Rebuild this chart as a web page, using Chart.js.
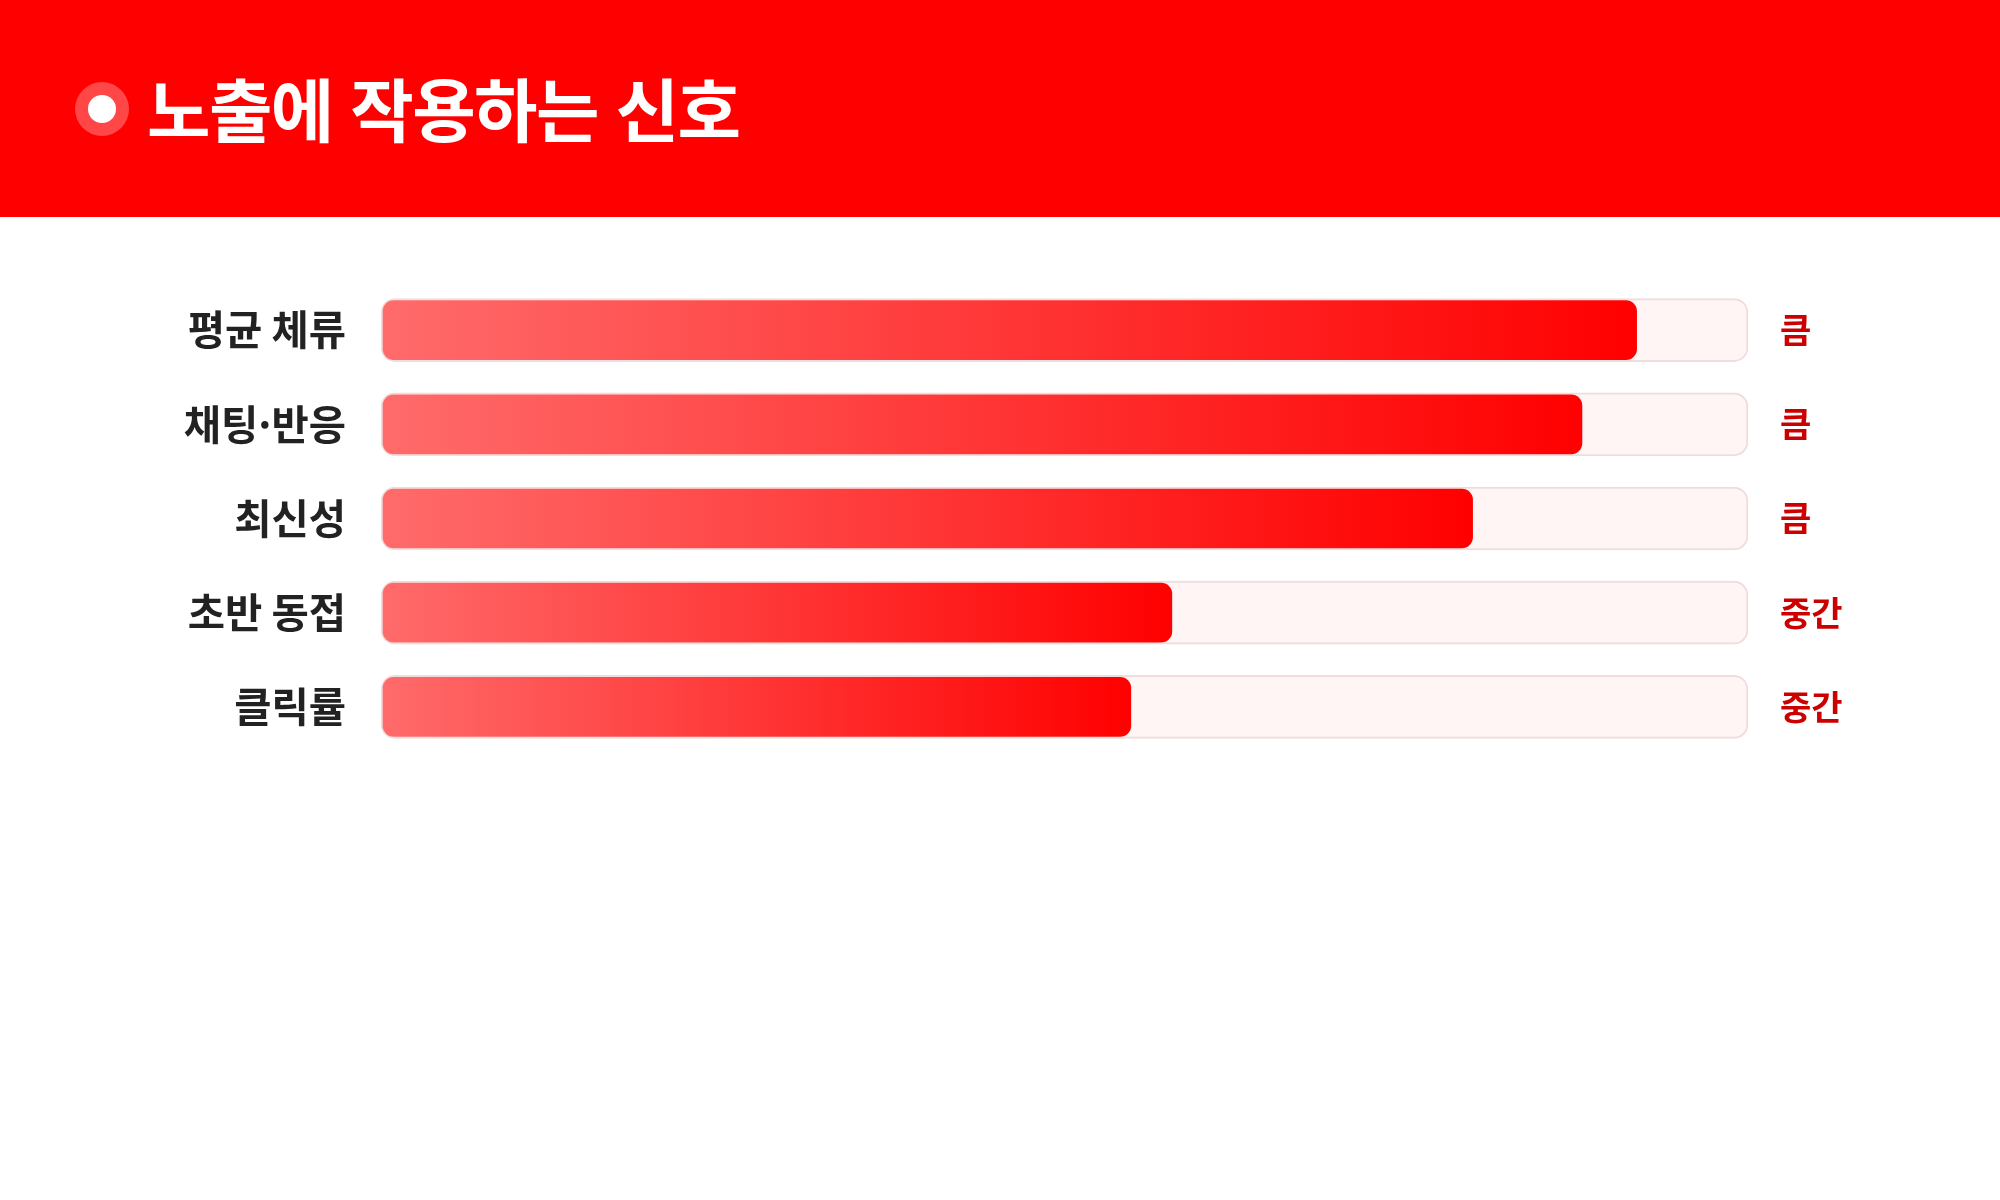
<!DOCTYPE html>
<html lang="ko">
<head>
<meta charset="utf-8">
<title>노출에 작용하는 신호</title>
<script src="https://cdn.jsdelivr.net/npm/chart.js@4.4.1/dist/chart.umd.min.js"></script>
<style>
  html, body { margin: 0; padding: 0; background: #fff; }
  body { width: 2000px; height: 1200px; overflow: hidden; font-family: "Noto Sans CJK KR", "Noto Sans", sans-serif; }
  .header {
    height: 217px; background: #ff0000;
    display: flex; align-items: center; padding-left: 75px; box-sizing: border-box;
  }
  .dot {
    width: 54px; height: 54px; border-radius: 50%;
    background: rgba(255, 255, 255, 0.28);
    display: flex; align-items: center; justify-content: center;
    margin-right: 18px;
  }
  .dot span { width: 28px; height: 28px; border-radius: 50%; background: #fff; }
  .header h1 {
    margin: 0; color: #fff; font-size: 69px; font-weight: 700; letter-spacing: -1.6px;
    position: relative; top: -2px;
  }
  .chart-wrap { position: relative; width: 2000px; height: 983px; }
</style>
</head>
<body>
<div class="header">
  <div class="dot"><span></span></div>
  <h1>노출에 작용하는 신호</h1>
</div>
<div class="chart-wrap"><canvas id="signalChart"></canvas></div>

<script>
// --- data ---
const signals = ['평균 체류', '채팅·반응', '최신성', '초반 동접', '클릭률'];
const strength = [92, 88, 80, 58, 55];
const levels = ['큼', '큼', '큼', '중간', '중간'];
const trackMax = [100, 100, 100, 100, 100];

document.addEventListener('DOMContentLoaded', () => {
  const ctx = document.getElementById('signalChart').getContext('2d');

  // each bar gets its own left-to-right gradient
  function barGradient(context) {
    const chart = context.chart;
    const x = chart.scales.x;
    if (!x || context.dataIndex === undefined) return '#ff3030';
    const v = context.dataset.data[context.dataIndex];
    const x0 = x.getPixelForValue(0);
    const x1 = x.getPixelForValue(v);
    if (!isFinite(x0) || !isFinite(x1) || x1 <= x0) return '#ff3030';
    const g = chart.ctx.createLinearGradient(x0, 0, x1, 0);
    g.addColorStop(0, '#ff6b6b');
    g.addColorStop(1, '#ff0000');
    return g;
  }

  new Chart(ctx, {
    type: 'bar',
    data: {
      labels: signals,
      datasets: [
        {
          label: '강도',
          data: strength,
          backgroundColor: barGradient,
          borderColor: 'rgba(0,0,0,0)',
          borderWidth: 2,
          borderSkipped: false,
          borderRadius: 13,
          barThickness: 63,
          grouped: false,
          order: 1
        },
        {
          label: 'track',
          data: trackMax,
          backgroundColor: '#fff5f5',
          borderColor: '#f0dcdc',
          borderWidth: 2,
          borderSkipped: false,
          borderRadius: 14,
          barThickness: 63,
          grouped: false,
          order: 2
        }
      ]
    },
    options: {
      indexAxis: 'y',
      responsive: true,
      maintainAspectRatio: false,
      animation: false,
      layout: { padding: { top: 66, bottom: 446, left: 0, right: 0 } },
      plugins: {
        legend: { display: false },
        tooltip: { enabled: false }
      },
      scales: {
        x: {
          display: false,
          min: 0,
          max: 100
        },
        y: {
          position: 'left',
          grid: { display: false, drawTicks: false },
          border: { display: false },
          ticks: {
            color: '#222222',
            padding: 35,
            font: { family: '"Noto Sans CJK KR"', size: 40.5, weight: 'bold' }
          },
          afterFit: (scale) => { scale.width = 381; }
        },
        level: {
          type: 'category',
          position: 'right',
          labels: levels,
          grid: { display: false, drawTicks: false },
          border: { display: false },
          ticks: {
            color: '#cc0000',
            padding: 32,
            font: { family: '"Noto Sans CJK KR"', size: 34, weight: 'bold' }
          },
          afterFit: (scale) => { scale.width = 252; }
        }
      }
    }
  });
});
</script>
</body>
</html>
